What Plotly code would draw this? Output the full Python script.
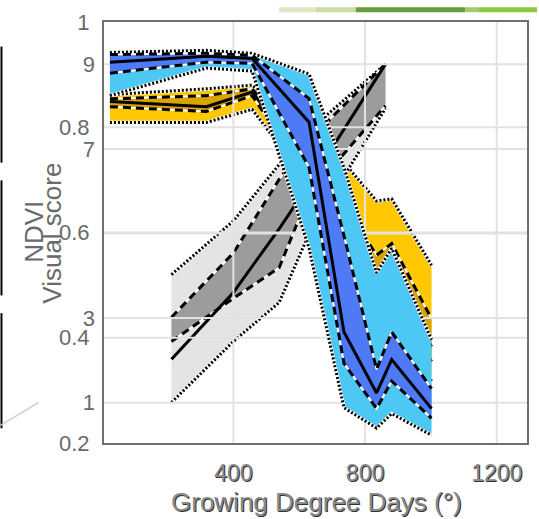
import plotly.graph_objects as go

# ---------------- data ----------------
# Blue series (visual score axis) : outer (dotted) / inner (dashed) bands and median
blue_gdd   = [25, 318, 457, 630, 736, 835, 881, 1002]
blue_p_hi  = [9.28, 9.33, 9.26, 8.77, 6.56, 4.07, 4.65, 2.49]
blue_q_hi  = [9.23, 9.26, 9.21, 8.19, 4.95, 1.79, 2.67, 1.33]
blue_med   = [9.05, 9.19, 9.14, 7.63, 2.67, 1.23, 2.02, 0.86]
blue_q_lo  = [8.79, 9.05, 9.02, 6.56, 1.93, 0.86, 1.51, 0.63]
blue_p_lo  = [8.26, 8.91, 8.84, 4.65, 0.88, 0.40, 0.74, 0.23]

# Yellow series (NDVI axis)
yel_gdd    = [25, 318, 457, 630, 736, 835, 881, 1002]
yel_p_hi   = [0.862, 0.873, 0.880, 0.794, 0.733, 0.660, 0.664, 0.538]
yel_q_hi   = [0.854, 0.860, 0.873, 0.748, 0.654, 0.557, 0.579, 0.436]
yel_med    = [0.849, 0.839, 0.867, 0.729, 0.617, 0.514, 0.533, 0.383]
yel_q_lo   = [0.839, 0.830, 0.860, 0.701, 0.579, 0.467, 0.486, 0.355]
yel_p_lo   = [0.809, 0.809, 0.834, 0.692, 0.542, 0.430, 0.449, 0.318]

# Grey series (NDVI axis)
grey_gdd   = [212, 400, 539, 630, 862]
grey_p_hi  = [0.520, 0.622, 0.729, 0.794, 0.920]
grey_q_hi  = [0.439, 0.561, 0.701, 0.776, 0.920]
grey_med   = [0.359, 0.486, 0.607, 0.692, 0.920]
grey_q_lo  = [0.393, 0.475, 0.533, 0.673, 0.841]
grey_p_lo  = [0.277, 0.393, 0.467, 0.598, 0.836]

x_ticks      = [400, 800, 1200]
ndvi_ticks   = [0.2, 0.4, 0.6, 0.8, 1]
ndvi_labels  = ["0.2", "0.4", "0.6", "0.8", "1"]
vis_ticks    = [1, 3, 7, 9]
ndvi_grid    = [0.4, 0.6, 0.8]
vis_grid     = [1, 3, 5, 7, 9]

X_RANGE = [7, 1292]
NDVI_RANGE = [0.2, 1.0]
VIS_RANGE = [0.0465, 10.0]

# ---------------- layout helpers ----------------
W, H = 539, 519
ML, MR, MT, MB = 104, 10, 15, 76
PW, PH = W - ML - MR, H - MT - MB


def px(x):
    return (x - ML) / PW


def py(y):
    return (H - MB - y) / PH


FONT = "Liberation Sans, Arial, sans-serif"
fig = go.Figure()


def band(x, p_hi, q_hi, med, q_lo, p_lo, outer, inner, yaxis):
    common = dict(x=x, yaxis=yaxis, hoverinfo="skip", showlegend=False, mode="lines")
    fig.add_trace(go.Scatter(y=p_hi, line=dict(width=0, color=outer), **common))
    fig.add_trace(go.Scatter(y=p_lo, line=dict(width=0, color=outer), fill="tonexty",
                             fillcolor=outer, **common))
    fig.add_trace(go.Scatter(y=q_hi, line=dict(width=0, color=inner), **common))
    fig.add_trace(go.Scatter(y=q_lo, line=dict(width=0, color=inner), fill="tonexty",
                             fillcolor=inner, **common))
    for yy in (p_hi, p_lo):
        fig.add_trace(go.Scatter(y=yy, line=dict(width=3.6, color="white"), **common))
        fig.add_trace(go.Scatter(y=yy, line=dict(width=3, color="black", dash="2px,2px"), **common))
    for yy in (q_hi, q_lo):
        fig.add_trace(go.Scatter(y=yy, line=dict(width=2, color="white"), **common))
        fig.add_trace(go.Scatter(y=yy, line=dict(width=3, color="black", dash="8px,5px"), **common))
    fig.add_trace(go.Scatter(y=med, line=dict(width=3, color="black"), **common))


def hgrid(vals, yaxis, rng_x):
    xs, ys = [], []
    for v in vals:
        xs += [rng_x[0], rng_x[1], None]
        ys += [v, v, None]
    fig.add_trace(go.Scatter(x=xs, y=ys, yaxis=yaxis, mode="lines", hoverinfo="skip",
                             showlegend=False, line=dict(color="#e2e2e2", width=2)))


def vgrid(vals, yaxis, rng_y):
    xs, ys = [], []
    for v in vals:
        xs += [v, v, None]
        ys += [rng_y[0], rng_y[1], None]
    fig.add_trace(go.Scatter(x=xs, y=ys, yaxis=yaxis, mode="lines", hoverinfo="skip",
                             showlegend=False, line=dict(color="#e2e2e2", width=2)))


# lower layer (NDVI axis)
band(yel_gdd, yel_p_hi, yel_q_hi, yel_med, yel_q_lo, yel_p_lo, "#FFC800", "#D9A400", "y")
band(grey_gdd, grey_p_hi, grey_q_hi, grey_med, grey_q_lo, grey_p_lo, "#E4E4E4", "#9C9C9C", "y")
hgrid(ndvi_grid, "y", X_RANGE)
vgrid(x_ticks, "y", NDVI_RANGE)
# upper layer (visual score axis)
hgrid(vis_grid, "y2", X_RANGE)
band(blue_gdd, blue_p_hi, blue_q_hi, blue_med, blue_q_lo, blue_p_lo, "#4DC8F5", "#4F7AF5", "y2")

tickfont = dict(family=FONT, size=22, color="#6a6a6a")

fig.update_layout(
    width=W, height=H,
    margin=dict(l=ML, r=MR, t=MT, b=MB),
    paper_bgcolor="white", plot_bgcolor="white",
    showlegend=False,
    xaxis=dict(range=X_RANGE, tickvals=x_ticks, ticktext=[str(t) for t in x_ticks],
               showgrid=False, zeroline=False, showline=True, mirror=True,
               linecolor="#707070", linewidth=2, ticks="", ticklabelstandoff=8,
               tickfont=dict(family=FONT, size=23, color="#8a8a8a",
                             shadow="1px 1px 0px #333")),
    yaxis=dict(range=NDVI_RANGE, tickvals=ndvi_ticks, ticktext=ndvi_labels,
               showgrid=False, zeroline=False, showline=True, mirror=True,
               linecolor="#707070", linewidth=2, ticks="", ticklabelstandoff=8,
               tickfont=tickfont),
    yaxis2=dict(range=VIS_RANGE, overlaying="y", side="left", anchor="x",
                tickvals=vis_ticks, ticktext=[str(t) for t in vis_ticks],
                showgrid=False, zeroline=False, showline=False, ticks="",
                ticklabelstandoff=8, tickfont=tickfont),
)

# axis titles
fig.add_annotation(text="NDVI", x=px(33), y=py(228), xref="paper", yref="paper",
                   textangle=-90, showarrow=False, xanchor="center", yanchor="middle",
                   font=dict(family=FONT, size=26, color="#6a6a6a"))
fig.add_annotation(text="Visual score", x=px(52), y=py(230), xref="paper", yref="paper",
                   textangle=-90, showarrow=False, xanchor="center", yanchor="middle",
                   font=dict(family=FONT, size=26, color="#6a6a6a"))
fig.add_annotation(text="Growing Degree Days (°)", x=px(318), y=py(503), xref="paper",
                   yref="paper", showarrow=False, xanchor="center", yanchor="middle",
                   font=dict(family=FONT, size=26, color="#8a8a8a",
                             shadow="1px 1px 0px #333"))

# slide decorations around the chart
shapes = []
for y0, y1 in [(40, 158), (176, 293), (311, 428)]:
    shapes.append(dict(type="rect", xref="paper", yref="paper", x0=px(0), x1=px(2),
                       y0=py(y1), y1=py(y0), fillcolor="black", line=dict(width=0)))
shapes.append(dict(type="line", xref="paper", yref="paper", x0=px(0), y0=py(425),
                   x1=px(38), y1=py(402), line=dict(color="#cccccc", width=1.5)))
for x0, x1, c in [(280, 317, "#dde8c6"), (317, 357, "#c9dca2"), (357, 467, "#6b9c3c"),
                  (467, 480, "#a5c96a"), (480, 539, "#8dc63f")]:
    shapes.append(dict(type="rect", xref="paper", yref="paper", x0=px(x0), x1=px(x1),
                       y0=py(5), y1=py(0), fillcolor=c, line=dict(width=0)))
fig.update_layout(shapes=shapes)

fig.write_html("out.html")
